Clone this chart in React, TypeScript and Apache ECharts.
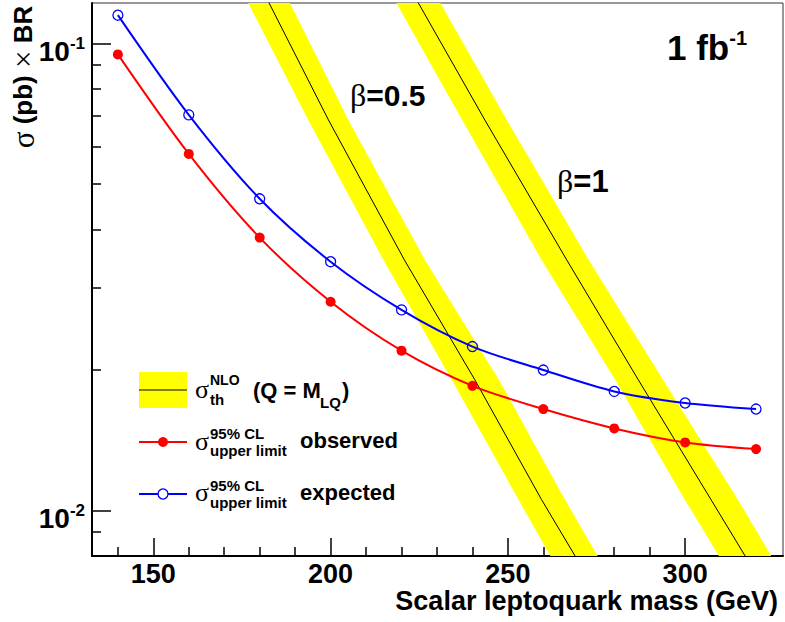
import React, { useEffect, useRef } from 'react';
import * as echarts from 'echarts';

// ---- data ----
const masses = [140, 160, 180, 200, 220, 240, 260, 280, 300, 320];
const observed = [0.0947, 0.058, 0.0384, 0.028, 0.022, 0.0185, 0.0165, 0.015, 0.014, 0.01355];
const expected = [0.1149, 0.0703, 0.0465, 0.0341, 0.0269, 0.02245, 0.02, 0.018, 0.017, 0.0165];

// theory curves: cross sections sampled along the bands
const thXsec = [0.13, 0.06856, 0.03441, 0.01905, 0.01056, 0.00747];
const th05Mass = [180.8, 199.4, 220.8, 240.7, 259.5, 271.3];
const th05LowEdge = [174.9, 193.7, 214.9, 234.2, 253.0, 264.2];
const th05HighEdge = [186.7, 205.0, 226.6, 247.5, 266.1, 277.6];
const th1Mass = [222.7, 243.5, 266.6, 286.8, 307.3, 319.3];
const th1LowEdge = [216.5, 237.1, 259.5, 280.3, 299.9, 311.9];
const th1HighEdge = [228.9, 249.7, 272.8, 293.8, 314.9, 326.6];

const xMajor = [150, 200, 250, 300];
const xMinor = [140, 160, 170, 180, 190, 210, 220, 230, 240, 260, 270, 280, 290, 310, 320];
const yMajor = [0.01, 0.1];
const yMinor = [0.009, 0.02, 0.03, 0.04, 0.05, 0.06, 0.07, 0.08, 0.09];

const SANS = 'Liberation Sans, Arial, Helvetica, sans-serif';
const SERIF = 'Liberation Serif, Times New Roman, serif';

function bandSeries(lowEdge: number[], highEdge: number[]) {
  return {
    type: 'custom',
    clip: true,
    z: 1,
    silent: true,
    data: [[lowEdge[2], thXsec[2]]],
    renderItem: (params: any, api: any) => {
      if (params.dataIndex !== 0) return null;
      const upper = highEdge.map((m, i) => api.coord([m, thXsec[i]]));
      const lower = lowEdge.map((m, i) => api.coord([m, thXsec[i]])).reverse();
      return {
        type: 'polygon',
        shape: { points: upper.concat(lower) },
        style: { fill: '#ffff00', stroke: 'none' },
      };
    },
  };
}

function centerLine(mass: number[]) {
  return {
    type: 'line',
    z: 3,
    silent: true,
    symbol: 'none',
    clip: true,
    data: mass.map((m, i) => [m, thXsec[i]]),
    lineStyle: { color: '#000', width: 1 },
  };
}

export default function App() {
  const ref = useRef<HTMLDivElement>(null);

  useEffect(() => {
    if (!ref.current) return;
    const chart = echarts.init(ref.current, undefined, { renderer: 'svg' });

    const supFmt = (v: number) => {
      const e = Math.round(Math.log10(v));
      return `{b|10}{s|${e}}`;
    };

    const legendText = (x: number, y: number, text: string, size: number, extra: any = {}) => ({
      type: 'text',
      x,
      y,
      style: {
        text,
        fontFamily: SANS,
        fontWeight: 'bold',
        fontSize: size,
        fill: '#000',
        align: 'left',
        verticalAlign: 'middle',
        ...extra,
      },
    });
    const sigma = (x: number, y: number) => ({
      type: 'text',
      x,
      y,
      style: { text: 'σ', fontFamily: SERIF, fontSize: 26, lineHeight: 20, fill: '#000', align: 'left', verticalAlign: 'middle' },
    });

    const option: any = {
      animation: false,
      backgroundColor: '#fff',
      grid: {
        left: 92,
        right: 2,
        top: 3,
        bottom: 66,
        show: true,
        borderColor: '#333',
        borderWidth: 1,
        backgroundColor: 'transparent',
      },
      xAxis: [
        {
          type: 'value',
          min: 132.7,
          max: 327.6,
          splitLine: { show: false },
          axisLine: { show: true, onZero: false, lineStyle: { color: '#000', width: 2 } },
          axisTick: { show: true, inside: true, length: 18, customValues: xMajor, lineStyle: { color: '#000', width: 1.5 } },
          axisLabel: {
            customValues: xMajor,
            margin: 4,
            fontFamily: SANS,
            fontWeight: 'bold',
            fontSize: 27,
            color: '#000',
          },
        },
        {
          type: 'value',
          min: 132.7,
          max: 327.6,
          position: 'bottom',
          splitLine: { show: false },
          axisLine: { show: false, onZero: false },
          axisTick: { show: true, inside: true, length: 9, customValues: xMinor, lineStyle: { color: '#000', width: 1.5 } },
          axisLabel: { show: false },
        },
      ],
      yAxis: [
        {
          type: 'log',
          logBase: 10,
          min: 0.008,
          max: 0.122,
          splitLine: { show: false },
          axisLine: { show: true, onZero: false, lineStyle: { color: '#000', width: 2 } },
          axisTick: { show: true, inside: true, length: 19, customValues: yMajor, lineStyle: { color: '#000', width: 1.5 } },
          axisLabel: {
            customValues: yMajor,
            margin: 7,
            padding: [16, 0, 0, 0],
            formatter: supFmt,
            rich: {
              b: { fontFamily: SANS, fontWeight: 'bold', fontSize: 28, color: '#000' },
              s: { fontFamily: SANS, fontWeight: 'bold', fontSize: 17, color: '#000', verticalAlign: 'top', padding: [0, 0, 16, 0] },
            },
          },
        },
        {
          type: 'log',
          logBase: 10,
          min: 0.008,
          max: 0.122,
          position: 'left',
          splitLine: { show: false },
          axisLine: { show: false, onZero: false },
          axisTick: { show: true, inside: true, length: 9, customValues: yMinor, lineStyle: { color: '#000', width: 1.5 } },
          axisLabel: { show: false },
        },
      ],
      series: [
        bandSeries(th05LowEdge, th05HighEdge),
        bandSeries(th1LowEdge, th1HighEdge),
        centerLine(th05Mass),
        centerLine(th1Mass),
        {
          type: 'line',
          z: 5,
          smooth: 0.3,
          data: masses.map((m, i) => [m, observed[i]]),
          symbol: 'circle',
          symbolSize: 10,
          lineStyle: { color: '#ff0000', width: 2 },
          itemStyle: { color: '#ff0000' },
        },
        {
          type: 'line',
          z: 6,
          smooth: 0.3,
          data: masses.map((m, i) => [m, expected[i]]),
          symbol: 'circle',
          symbolSize: 10,
          lineStyle: { color: '#0000ff', width: 2 },
          itemStyle: { color: 'rgba(255,255,255,0)', borderColor: '#0000ff', borderWidth: 1.3 },
        },
      ],
      graphic: [
        // y-axis title
        {
          type: 'text',
          x: 23,
          y: 77,
          rotation: Math.PI / 2,
          style: {
            text: '{g|σ}{b| (pb) }{g|×}{b| BR}',
            align: 'center',
            verticalAlign: 'middle',
            rich: {
              g: { fontFamily: SERIF, fontSize: 31, color: '#000' },
              b: { fontFamily: SANS, fontWeight: 'bold', fontSize: 26, color: '#000' },
            },
          },
        },
        // x-axis title
        {
          type: 'text',
          x: 778,
          y: 601,
          style: {
            text: 'Scalar leptoquark mass (GeV)',
            fontFamily: SANS,
            fontWeight: 'bold',
            fontSize: 27,
            fill: '#000',
            align: 'right',
            verticalAlign: 'middle',
          },
        },
        // luminosity
        {
          type: 'text',
          x: 667,
          y: 47,
          style: {
            text: '{b|1 fb}{s|-1}',
            align: 'left',
            verticalAlign: 'middle',
            rich: {
              b: { fontFamily: SANS, fontWeight: 'bold', fontSize: 35, color: '#000' },
              s: { fontFamily: SANS, fontWeight: 'bold', fontSize: 20, color: '#000', verticalAlign: 'top', padding: [0, 0, 18, 0] },
            },
          },
        },
        // beta labels
        {
          type: 'text',
          x: 350,
          y: 95,
          style: {
            text: '{g|β}{b|=0.5}',
            align: 'left',
            verticalAlign: 'middle',
            rich: {
              g: { fontFamily: SERIF, fontSize: 32, color: '#000' },
              b: { fontFamily: SANS, fontWeight: 'bold', fontSize: 30, color: '#000' },
            },
          },
        },
        {
          type: 'text',
          x: 557,
          y: 181,
          style: {
            text: '{g|β}{b|=1}',
            align: 'left',
            verticalAlign: 'middle',
            rich: {
              g: { fontFamily: SERIF, fontSize: 32, color: '#000' },
              b: { fontFamily: SANS, fontWeight: 'bold', fontSize: 31, color: '#000' },
            },
          },
        },
        // legend row 1: theory
        { type: 'rect', shape: { x: 139, y: 372, width: 48, height: 36 }, style: { fill: '#ffff00' } },
        { type: 'line', shape: { x1: 139, y1: 390, x2: 187, y2: 390 }, style: { stroke: '#000', lineWidth: 1 } },
        sigma(195, 389),
        legendText(210, 380, 'NLO', 14, { lineHeight: 14 }),
        legendText(210, 399, 'th', 15, { lineHeight: 15 }),
        legendText(253, 390, '(Q = M', 22),
        legendText(320, 402, 'LQ', 15, { lineHeight: 15 }),
        legendText(342, 390, ')', 22),
        // legend row 2: observed
        { type: 'line', shape: { x1: 139, y1: 442, x2: 187, y2: 442 }, style: { stroke: '#ff0000', lineWidth: 2 } },
        { type: 'circle', shape: { cx: 163, cy: 442, r: 5 }, style: { fill: '#ff0000' } },
        sigma(195, 441),
        legendText(210, 433, '95% CL', 15, { lineHeight: 15 }),
        legendText(210, 450, 'upper limit', 15, { lineHeight: 15 }),
        legendText(300, 440, 'observed', 22),
        // legend row 3: expected
        { type: 'line', shape: { x1: 139, y1: 494, x2: 187, y2: 494 }, style: { stroke: '#0000ff', lineWidth: 2 } },
        { type: 'circle', shape: { cx: 163, cy: 494, r: 5 }, style: { fill: '#fff', stroke: '#0000ff', lineWidth: 1.3 } },
        sigma(195, 492),
        legendText(210, 485, '95% CL', 15, { lineHeight: 15 }),
        legendText(210, 502, 'upper limit', 15, { lineHeight: 15 }),
        legendText(300, 492, 'expected', 22),
      ],
    };

    chart.setOption(option);
    return () => chart.dispose();
  }, []);

  return (
    <div
      ref={ref}
      style={{ position: 'fixed', left: 0, top: 0, width: 785, height: 622, background: '#fff' }}
    />
  );
}
